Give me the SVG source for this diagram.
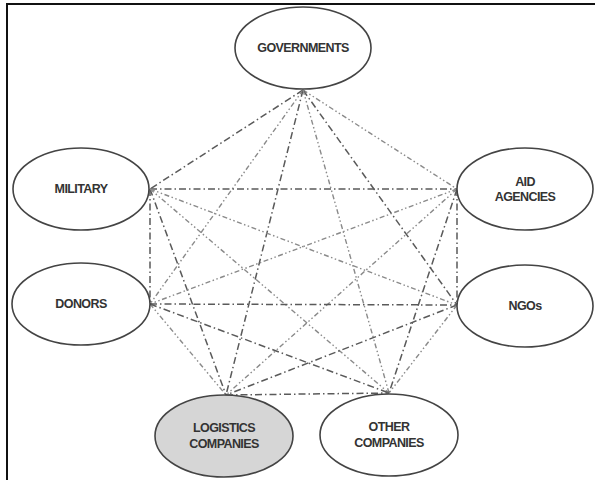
<svg xmlns="http://www.w3.org/2000/svg" width="595" height="480" viewBox="0 0 595 480">
<defs>
<style>
.node ellipse{fill:#fff;stroke:#444;stroke-width:1.6}
#logistics ellipse{fill:#d6d6d6}
.node text{font-family:"Liberation Sans",Arial,sans-serif;font-weight:bold;font-size:12.5px;fill:#333;text-anchor:middle;letter-spacing:-0.6px}
.a{stroke:#5a5a5a;stroke-width:1.5;fill:none;stroke-dasharray:7 3 1.5 3}
.b{stroke:#8a8a8a;stroke-width:1.4;fill:none;stroke-dasharray:5 2.5 1.5 2.5 1.5 2.5}
</style>
</defs>
<rect width="595" height="480" fill="#fff"/>
<line x1="6" y1="4" x2="595" y2="4" stroke="#111" stroke-width="2"/>
<line x1="7" y1="3" x2="7" y2="480" stroke="#111" stroke-width="2"/>
<g id="connectors">
<line class="a" x1="303" y1="90" x2="150" y2="189"/>
<line class="b" x1="303" y1="90" x2="457" y2="189"/>
<line class="b" x1="303" y1="90" x2="150" y2="304"/>
<line class="a" x1="303" y1="90" x2="457" y2="305"/>
<line class="a" x1="303" y1="90" x2="226" y2="395"/>
<line class="b" x1="303" y1="90" x2="389" y2="393"/>
<line class="a" x1="150" y1="189" x2="457" y2="189"/>
<line class="a" x1="150" y1="189" x2="150" y2="304"/>
<line class="b" x1="150" y1="189" x2="457" y2="305"/>
<line class="a" x1="150" y1="189" x2="226" y2="395"/>
<line class="b" x1="150" y1="189" x2="389" y2="393"/>
<line class="b" x1="457" y1="189" x2="150" y2="304"/>
<line class="a" x1="457" y1="189" x2="457" y2="305"/>
<line class="b" x1="457" y1="189" x2="226" y2="395"/>
<line class="a" x1="457" y1="189" x2="389" y2="393"/>
<line class="a" x1="150" y1="304" x2="457" y2="305"/>
<line class="b" x1="150" y1="304" x2="226" y2="395"/>
<line class="a" x1="150" y1="304" x2="389" y2="393"/>
<line class="a" x1="457" y1="305" x2="226" y2="395"/>
<line class="b" x1="457" y1="305" x2="389" y2="393"/>
<line class="a" x1="226" y1="395" x2="389" y2="393"/>
</g>
<g id="governments" class="node"><ellipse cx="303" cy="48" rx="68" ry="41"/><text x="303" y="52">GOVERNMENTS</text></g>
<g id="military" class="node"><ellipse cx="81" cy="189" rx="68" ry="41"/><text x="81" y="193">MILITARY</text></g>
<g id="aid" class="node"><ellipse cx="525" cy="189" rx="68" ry="41"/><text x="525" y="186">AID</text><text x="525" y="201">AGENCIES</text></g>
<g id="donors" class="node"><ellipse cx="81" cy="304" rx="69" ry="41"/><text x="81" y="308">DONORS</text></g>
<g id="ngos" class="node"><ellipse cx="525" cy="306" rx="68" ry="41"/><text x="525" y="310">NGOs</text></g>
<g id="logistics" class="node"><ellipse cx="224" cy="436" rx="69" ry="41"/><text x="224" y="432">LOGISTICS</text><text x="224" y="448">COMPANIES</text></g>
<g id="other" class="node"><ellipse cx="389" cy="435" rx="69" ry="41"/><text x="389" y="431">OTHER</text><text x="389" y="447">COMPANIES</text></g>
</svg>
